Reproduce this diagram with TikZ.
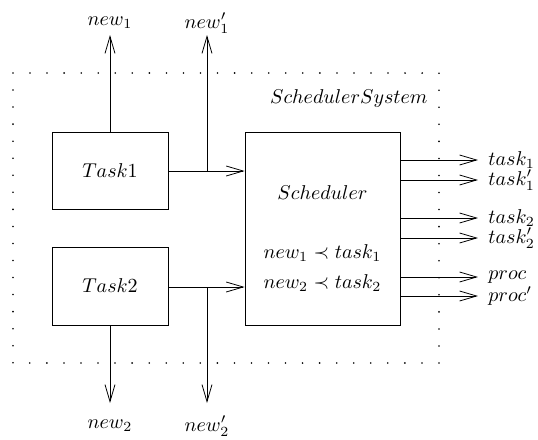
\documentclass[tikz,border=0pt]{standalone}
\usetikzlibrary{arrows.meta}
\begin{document}
\begin{tikzpicture}[x=0.5pt,y=-0.5pt,
  box/.style={draw, rectangle, inner sep=0pt},
  arr/.style={-{Straight Barb[length=8.5pt,width=5pt]}},
  lab/.style={inner sep=0pt}]
\useasboundingbox (0,0) rectangle (538,440);
\draw[line width=0.9pt, line cap=round, dash pattern=on 0pt off 8.524pt] (13,73) -- (439,73) -- (439,363) -- (13,363) -- cycle;
\node[lab, anchor=east] (sys) at (428,98) {$SchedulerSystem$};
\node[box, minimum width=58pt, minimum height=38.5pt] (t1) at (110,170.5) {$Task1$};
\node[box, minimum width=58pt, minimum height=39pt] (t2) at (110,286) {$Task2$};
\node[box, minimum width=77.5pt, minimum height=96.5pt] (s) at (322.5,228.5) {};
\node[lab] (sname) at (322.5,193) {$Scheduler$};
\node[lab] (c1) at (322.5,253) {$new_1 \prec task_1$};
\node[lab] (c2) at (322.5,283) {$new_2 \prec task_2$};
% top and bottom labels
\node[lab] (n1) at (110,23) {$new_1$};
\node[lab] (n1p) at (207,23) {$new'_1$};
\node[lab] (n2) at (110,426) {$new_2$};
\node[lab] (n2p) at (207,426) {$new'_2$};
\coordinate (tn1) at (110,35);
\coordinate (tn1p) at (207,35);
\coordinate (tn2) at (110,403);
\coordinate (tn2p) at (207,403);
\coordinate (b1) at (207,171);
\coordinate (b2) at (207,287);
\draw[arr] (t1.north) -- (tn1);
\draw[arr] (t2.south) -- (tn2);
\draw[arr] (t1.east |- b1) -- (b1 -| s.west);
\draw[arr] (t2.east |- b2) -- (b2 -| s.west);
\draw[arr] (b1) -- (tn1p);
\draw[arr] (b2) -- (tn2p);
% outputs
\foreach \i/\y/\t in {1/160/{task_1}, 2/180/{task'_1}, 3/218/{task_2}, 4/238/{task'_2}, 5/277/{proc}, 6/296/{proc'}}{
  \coordinate (o\i) at (478,\y);
  \node[lab, anchor=west] (ol\i) at (488,\y) {$\t$};
  \draw[arr] (s.east |- o\i) -- (o\i);
}
\end{tikzpicture}
\end{document}
